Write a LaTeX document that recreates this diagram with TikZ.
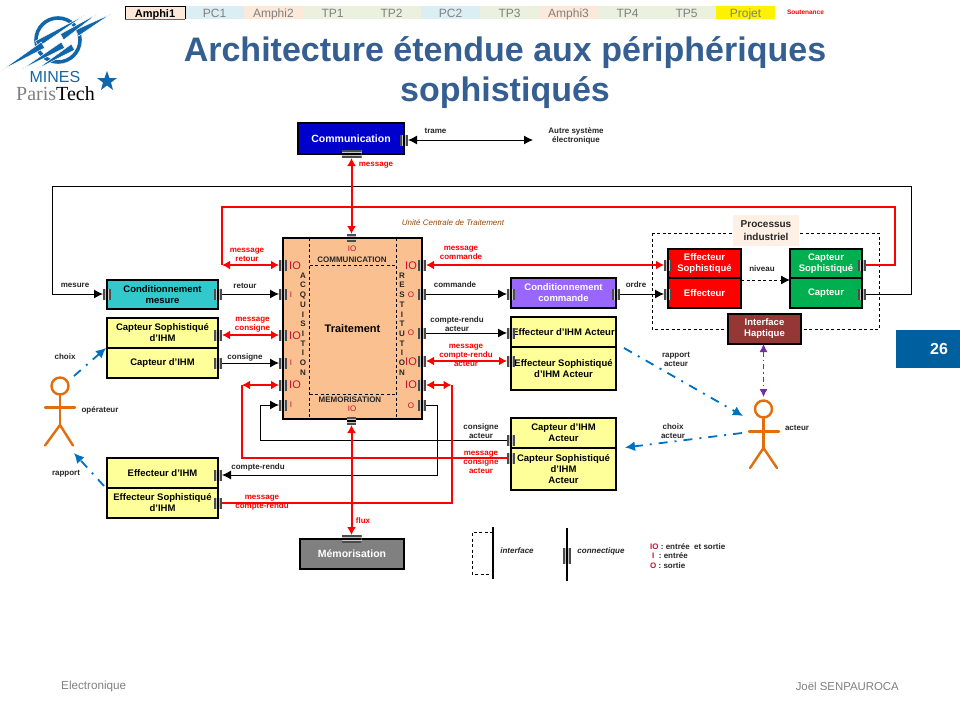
\documentclass[tikz,border=0pt]{standalone}
\usepackage{fontspec}
\setmainfont{Liberation Sans}
\newfontfamily\serifpt{Liberation Serif}
\usetikzlibrary{arrows.meta,calc}
\definecolor{tamphi}{HTML}{FDE9D9}
\definecolor{tpc}{HTML}{DBEEF4}
\definecolor{ttp}{HTML}{EBF1DE}
\definecolor{titleblue}{HTML}{365F91}
\definecolor{mblue}{HTML}{1166AA}
\definecolor{dblue}{HTML}{0070C0}
\definecolor{pageblue}{HTML}{005F9E}
\definecolor{orangeman}{HTML}{E46C0A}
\definecolor{purpleh}{HTML}{7030A0}
\definecolor{teal}{HTML}{31C9CB}
\definecolor{paley}{HTML}{FFFF99}
\definecolor{violetc}{HTML}{9966FF}
\definecolor{greenc}{HTML}{00B050}
\definecolor{brownh}{HTML}{953735}
\definecolor{peach}{HTML}{FAC090}
\definecolor{darkred}{HTML}{C8102E}
\definecolor{brownt}{HTML}{984807}
\tikzset{
  boxn/.style={draw=black,line width=1.5pt,inner sep=0pt,outer sep=0pt,align=center,text=black,
    font=\fontsize{9.5}{11}\selectfont\bfseries},
  tabn/.style={inner sep=0pt,outer sep=0pt,text=gray,text height=10pt,text depth=0pt,font=\fontsize{12}{12}\selectfont},
  lab/.style={inner sep=0pt,align=center,text=black!85,font=\fontsize{8}{9}\selectfont\bfseries},
  rlab/.style={lab,text=red},
  iol/.style={inner sep=0pt,text=darkred,font=\fontsize{11}{12}\selectfont},
  ios/.style={inner sep=0pt,text=darkred,font=\fontsize{8}{9}\selectfont},
  inner/.style={inner sep=0pt,align=center,text=black!85,font=\fontsize{8}{9.7}\selectfont\bfseries},
  wire/.style={draw=black,line width=1pt},
  rwire/.style={draw=red,line width=2pt},
  dashw/.style={draw=black,line width=.8pt,dash pattern=on 3pt off 2.5pt},
  bdash/.style={draw=dblue,line width=1.8pt,dash pattern=on 9pt off 7pt on 2pt off 7pt},
  pdash/.style={draw=purpleh,line width=1pt,dash pattern=on 5pt off 3pt on 1.5pt off 3pt},
  man/.style={draw=orangeman,line width=2.4pt,line cap=round},
  bk/.style={-{Latex[length=9pt,width=9pt]}},
  bkb/.style={{Latex[length=9pt,width=9pt]}-{Latex[length=9pt,width=9pt]}},
  rd/.style={{Latex[length=8pt,width=9pt]}-{Latex[length=8pt,width=9pt]}},
  bl/.style={-{Latex[length=10pt,width=10pt]}},
  vcon/.style={inner sep=0pt,outer sep=0pt,minimum width=8pt,minimum height=11pt,fill=gray!45,
    path picture={
      \draw[black!70,line width=1.1pt] ([xshift=1pt]path picture bounding box.north west) -- ([xshift=1pt]path picture bounding box.south west);
      \draw[black!70,line width=1.1pt] ([xshift=-1pt]path picture bounding box.north east) -- ([xshift=-1pt]path picture bounding box.south east);
      \draw[black,line width=1.3pt] (path picture bounding box.north) -- (path picture bounding box.south);
    }},
  hcon/.style={inner sep=0pt,outer sep=0pt,minimum height=8pt,minimum width=#1,fill=gray!45,
    path picture={
      \draw[black!70,line width=1.1pt] ([yshift=-1pt]path picture bounding box.north west) -- ([yshift=-1pt]path picture bounding box.north east);
      \draw[black!70,line width=1.1pt] ([yshift=1pt]path picture bounding box.south west) -- ([yshift=1pt]path picture bounding box.south east);
      \draw[black,line width=1.3pt] (path picture bounding box.west) -- (path picture bounding box.east);
    }},
}
\newcommand{\bx}[7]{%
  \pgfmathsetmacro{\bw}{#4-#2}\pgfmathsetmacro{\bh}{#5-#3}%
  \node[boxn,#6,minimum width=\bw pt,minimum height=\bh pt] (#1) at ({(#2+#4)/2},{(#3+#5)/2}) {#7};}
\newcommand{\tabb}[5]{%
  \pgfmathsetmacro{\bw}{#3-#2}%
  \node[tabn,fill=#4,minimum width=\bw pt,minimum height=13pt] (#1) at ({(#2+#3)/2},12.5) {#5};}
\newcommand{\sls}[4]{\fill[mblue,draw=white,line width=.5pt] (#1,#2) -- (#3+1.6,#4+3) -- (#3-1.6,#4-3) -- cycle;}
\begin{document}
\begin{tikzpicture}[x=1pt,y=-1pt]
\useasboundingbox (0,0) rectangle (960,720);
% schedule
\tabb{t1}{125}{185}{tamphi}{\textcolor{black}{\fontsize{11}{12}\selectfont\bfseries Amphi1}}
\draw[black,line width=1pt] (t1.south west) -- (t1.north west) -- (t1.north east) -- (t1.south east);
\draw[black!60,line width=1pt] (t1.south west) -- (t1.south east);
\tabb{t2}{185.5}{243.7}{tpc}{PC1}
\tabb{t3}{243.7}{303}{tamphi}{Amphi2}
\tabb{t4}{303}{362}{ttp}{TP1}
\tabb{t5}{362}{421}{ttp}{TP2}
\tabb{t6}{421}{480}{tpc}{PC2}
\tabb{t7}{480}{539}{ttp}{TP3}
\tabb{t8}{539}{598}{tamphi}{Amphi3}
\tabb{t9}{598}{657}{ttp}{TP4}
\tabb{t10}{657}{716}{ttp}{TP5}
\tabb{t11}{716}{775}{yellow}{Projet}
\node[inner sep=0pt,text=red,font=\fontsize{6.5}{7}\selectfont\bfseries] (t12) at (805.5,12.5) {Soutenance};
% logo
\draw[mblue,line width=3.6pt] (58,40) circle (22);
\sls{111}{14}{77}{33}
\sls{97}{14}{62}{37}
\sls{85}{15}{37}{44}
\sls{2}{70}{43}{45}
\sls{22}{69}{63}{45}
\sls{37}{69}{73}{47}
\node[inner sep=0pt,text=mblue,font=\fontsize{16}{16}\selectfont] (mines) at (55,77) {MINES};
\node[inner sep=0pt,font=\serifpt\fontsize{20}{20}\selectfont] (ptech) at (55.5,93.5) {\textcolor{gray}{Paris}\textcolor{black}{Tech}};
\fill[mblue] (107,71) -- (109.5,78) -- (117,78) -- (111,82.5) -- (113,90) -- (107,85.5) -- (101,90) -- (103,82.5) -- (97,78) -- (104.5,78) -- cycle;
% title
\node[inner sep=0pt,align=center,text=titleblue,font=\fontsize{34}{40}\selectfont\bfseries] (title) at (505,72.5) {Architecture étendue aux périphériques\\sophistiqués};
% boxes
\bx{comm}{298}{123}{404}{154}{fill=blue!80!black,text=white,font=\fontsize{10.5}{12}\selectfont\bfseries}{Communication}
\bx{memo}{300}{539}{404}{569}{fill=black!50,text=white,font=\fontsize{10.5}{12}\selectfont\bfseries}{Mémorisation}
\bx{cmes}{107}{280}{218}{309}{fill=teal}{Conditionnement\\mesure}
\bx{caps}{107}{318}{218}{348}{fill=paley}{Capteur Sophistiqué\\d'IHM}
\bx{capi}{107}{348}{218}{378}{fill=paley}{Capteur d'IHM}
\bx{effi}{107}{458}{218}{488}{fill=paley}{Effecteur d'IHM}
\bx{effs}{107}{488}{218}{518}{fill=paley}{Effecteur Sophistiqué\\d'IHM}
\bx{ccom}{511}{278}{616}{308}{fill=violetc,text=white}{Conditionnement\\commande}
\bx{eia}{511}{317}{616}{347}{fill=paley}{Effecteur d'IHM Acteur}
\bx{esa}{511}{347}{616}{390}{fill=paley}{Effecteur Sophistiqué\\d'IHM Acteur}
\bx{cia}{511}{418}{616}{448}{fill=paley}{Capteur d'IHM\\Acteur}
\bx{csa}{511}{448}{616}{490}{fill=paley}{Capteur Sophistiqué\\d'IHM\\Acteur}
\bx{trt}{283}{238}{422}{419}{fill=peach,font=\fontsize{11}{12}\selectfont\bfseries}{Traitement}
% process
\draw[dashw] (652,233) rectangle (879,329);
\node[fill=tamphi!70,inner sep=0pt,minimum width=66pt,minimum height=31pt,align=center,text=black!85,font=\fontsize{10}{12.5}\selectfont\bfseries] (proc) at (766,230.5) {Processus\\industriel};
\bx{efs}{668}{249}{741}{278}{fill=red,text=white}{Effecteur\\Sophistiqué}
\bx{eff}{668}{278}{741}{308}{fill=red,text=white}{Effecteur}
\bx{cps}{790}{249}{862}{278}{fill=greenc,text=white}{Capteur\\Sophistiqué}
\bx{cpt}{790}{278}{862}{308}{fill=greenc,text=white}{Capteur}
\bx{hapt}{728}{314}{801}{344}{fill=brownh,text=white}{Interface\\Haptique}
% dashes inside Traitement
\coordinate (dv1t) at (309.5,238); \coordinate (dv1b) at (309.5,419);
\coordinate (dv2t) at (396.5,238); \coordinate (dv2b) at (396.5,419);
\coordinate (dh1l) at (309.5,265); \coordinate (dh1r) at (396.5,265);
\coordinate (dh2l) at (309.5,394); \coordinate (dh2r) at (396.5,394);
\draw[dashw] (dv1t) -- (dv1b); \draw[dashw] (dv2t) -- (dv2b);
\draw[dashw] (dh1l) -- (dh1r); \draw[dashw] (dh2l) -- (dh2r);
\node[inner] (tcom) at (352,259.5) {COMMUNICATION};
\node[inner] (tmem) at (350,400) {MEMORISATION};
\node[inner] (tacq) at (303,324) {A\\C\\Q\\U\\I\\S\\I\\T\\I\\O\\N};
\node[inner] (tres) at (402,324) {R\\E\\S\\T\\I\\T\\U\\T\\I\\O\\N};
\node[ios] (io1) at (352,249) {IO};
\node[ios] (io2) at (352,409) {IO};
\node[iol] at (295,265.5) {IO};
\node[ios] at (291,295) {I};
\node[iol] at (295,335.5) {IO};
\node[ios] at (291,363) {I};
\node[iol] at (295,385) {IO};
\node[ios] at (291,405) {I};
\node[iol] at (411,265.5) {IO};
\node[ios] at (411,295) {O};
\node[ios] at (411,333) {O};
\node[iol] at (411,362) {IO};
\node[iol] at (411,385) {IO};
\node[ios] at (411,406) {O};
% connectors
\node[vcon] (cR) at (404,140) {};
\node[hcon=20pt] (cB) at (351.5,154) {};
\node[hcon=20pt] (mT) at (351.5,539) {};
\node[hcon=9pt] (tT) at (351.5,238) {};
\node[hcon=9pt] (tB) at (351.5,421) {};
\foreach \n/\y in {L1/265,L2/294,L3/335,L4/363,L5/385,L6/405} \node[vcon] (\n) at (283,\y) {};
\foreach \n/\y in {R1/265,R2/294,R3/333,R4/361,R5/385,R6/405} \node[vcon] (\n) at (422,\y) {};
\node[vcon] (cmesL) at (107,294) {};
\node[vcon] (cmesR) at (218,294) {};
\node[vcon] (capsR) at (218,335) {};
\node[vcon] (capiR) at (218,363) {};
\node[vcon] (effiR) at (218,475) {};
\node[vcon] (effsR) at (218,503) {};
\node[vcon] (ccomL) at (511,294) {};
\node[vcon] (ccomR) at (616,294) {};
\node[vcon] (eiaL) at (511,333) {};
\node[vcon] (esaL) at (511,361) {};
\node[vcon] (ciaL) at (511,440) {};
\node[vcon] (csaL) at (511,458) {};
\node[vcon] (efsL) at (668,265) {};
\node[vcon] (effL) at (668,294) {};
\node[vcon] (cpsR) at (862,265) {};
\node[vcon] (cptR) at (862,294) {};
% free-end coordinates
\coordinate (trameEnd) at (533,140);
\coordinate (bl1) at (911,294); \coordinate (bl2) at (911,186); \coordinate (bl3) at (52,186); \coordinate (bl4) at (52,294);
\coordinate (rl1) at (895,265); \coordinate (rl2) at (895,207); \coordinate (rl3) at (222,207); \coordinate (rl4) at (222,265);
% wires
\draw[wire] (cptR.east) -- (bl1) -- (bl2) -- (bl3) -- (bl4);
\draw[wire,bk] (bl4) -- (cmesL.west);
\draw[wire,bk] (cmesR.east) -- (L2.west);
\draw[wire,bk] (capiR.east) -- (L4.west);
\draw[wire,bk] (R2.east) -- (ccomL.west);
\draw[wire,bk] (R3.east) -- (eiaL.west);
\draw[wire,bk] (ccomR.east) -- (effL.west);
\draw[wire,bkb] (cR.east) -- (trameEnd);
\coordinate (w1) at (260.5,405); \coordinate (w2) at (260.5,440);
\draw[wire] (ciaL.west) -- (w2) -- (w1);
\draw[wire,bk] (w1) -- (L6.west);
\coordinate (w3) at (437.5,405); \coordinate (w4) at (437.5,475);
\draw[wire] (R6.east) -- (w3) -- (w4);
\draw[wire,bk] (w4) -- (effiR.east);
\coordinate (n1) at (741,280); \coordinate (n2) at (790,280);
\draw[dashw,bk] (n1) -- (n2);
\draw[rwire,line join=miter] (cpsR.east) -- (rl1) -- (rl2) -- (rl3) -- (rl4);
\draw[rwire,rd] (rl4) -- (L1.west);
\draw[rwire,rd] (R1.east) -- (efsL.west);
\draw[rwire,rd] (capsR.east) -- (L3.west);
\draw[rwire,rd] (R4.east) -- (esaL.west);
\coordinate (r1) at (242,385); \coordinate (r2) at (242,458);
\draw[rwire,rd] (r1) -- (L5.west);
\draw[rwire] (r1) -- (r2) -- (csaL.west);
\coordinate (r3) at (451.5,385); \coordinate (r4) at (451.5,503);
\draw[rwire,rd] (R5.east) -- (r3);
\draw[rwire] (r3) -- (r4) -- (effsR.east);
\draw[rwire,rd] (cB.south) -- (tT.north);
\draw[rwire,rd] (tB.south) -- (mT.north);
% actors
\node[draw=orangeman,line width=2.4pt,circle,minimum size=17pt,inner sep=0pt] (opH) at (60,386) {};
\coordinate (opB) at (60,425); \coordinate (opA1) at (45,407.5); \coordinate (opA2) at (75,407.5);
\coordinate (opL1) at (45,445.5); \coordinate (opL2) at (73,445.5);
\draw[man] (opH.south) -- (opB); \draw[man] (opA1) -- (opA2); \draw[man] (opL1) -- (opB) -- (opL2);
\node[draw=orangeman,line width=2.4pt,circle,minimum size=17pt,inner sep=0pt] (acH) at (763.5,409) {};
\coordinate (acB) at (763.5,448); \coordinate (acA1) at (749,431.5); \coordinate (acA2) at (779,431.5);
\coordinate (acL1) at (750,468); \coordinate (acL2) at (777,468);
\draw[man] (acH.south) -- (acB); \draw[man] (acA1) -- (acA2); \draw[man] (acL1) -- (acB) -- (acL2);
% dash-dot links
\coordinate (b1) at (74,376); \coordinate (b2) at (106,348);
\coordinate (b3) at (104,486); \coordinate (b4) at (74,453);
\coordinate (b5) at (624,348); \coordinate (b6) at (743,416);
\coordinate (b7) at (742,433); \coordinate (b8) at (625,447.5);
\draw[bdash,bl] (b1) -- (b2);
\draw[bdash,bl] (b3) -- (b4);
\draw[bdash,bl] (b5) -- (b6);
\draw[bdash,bl] (b7) -- (b8);
\coordinate (p1) at (763.5,397);
\draw[pdash,{Latex[length=8pt,width=8pt]}-{Latex[length=8pt,width=8pt]}] (hapt.south -| p1) -- (p1);
% labels
\node[lab] (l01) at (435.5,131) {trame};
\node[lab] (l02) at (576,136) {Autre système\\électronique};
\node[rlab] (l03) at (376,165) {message};
\node[inner sep=0pt,text=brownt,font=\fontsize{8}{9}\selectfont\itshape] (l04) at (453,223) {Unité Centrale de Traitement};
\node[lab] (l05) at (75,285) {mesure};
\node[lab] (l06) at (245,286) {retour};
\node[rlab] (l07) at (247,255) {message\\retour};
\node[rlab] (l08) at (252.5,325) {message\\consigne};
\node[lab] (l09) at (245,357) {consigne};
\node[lab] (l10) at (65,357) {choix};
\node[lab] (l11) at (100,410) {opérateur};
\node[lab] (l12) at (66,474) {rapport};
\node[lab] (l13) at (258,467) {compte-rendu};
\node[rlab] (l14) at (262,503) {message\\compte-rendu};
\node[rlab] (l15) at (461,253) {message\\commande};
\node[lab] (l16) at (455,285) {commande};
\node[lab] (l17) at (457,324) {compte-rendu\\acteur};
\node[rlab] (l18) at (466,355.5) {message\\compte-rendu\\acteur};
\node[lab] (l19) at (481,431) {consigne\\acteur};
\node[rlab] (l20) at (481,462.5) {message\\consigne\\acteur};
\node[lab] (l21) at (636,285) {ordre};
\node[lab] (l22) at (762,269) {niveau};
\node[lab] (l23) at (676,359) {rapport\\acteur};
\node[lab] (l24) at (673,431.5) {choix\\acteur};
\node[lab] (l25) at (797,428) {acteur};
\node[rlab] (l26) at (363,521) {flux};
% legend
\coordinate (lg1) at (493,532); \coordinate (lg2) at (472,532); \coordinate (lg3) at (472,574); \coordinate (lg4) at (493,574);
\draw[dashw] (lg1) -- (lg2) -- (lg3) -- (lg4);
\coordinate (lg5) at (493,527); \coordinate (lg6) at (493,579);
\draw[black,line width=1.5pt] (lg5) -- (lg6);
\coordinate (lg7) at (567,528); \coordinate (lg8) at (567,581);
\draw[black,line width=1.5pt] (lg7) -- (lg8);
\node[vcon,minimum height=16pt] (lgc) at (567,556) {};
\node[inner sep=0pt,text=black!85,font=\fontsize{8}{9}\selectfont\bfseries\itshape] (l27) at (517,551) {interface};
\node[inner sep=0pt,text=black!85,font=\fontsize{8}{9}\selectfont\bfseries\itshape] (l28) at (601,551) {connectique};
\node[lab,anchor=west] (l29) at (650,547) {\textcolor{darkred}{IO} : entrée\ \ et sortie};
\node[lab,anchor=west] (l30) at (652,556) {\textcolor{darkred}{I}\ \ : entrée};
\node[lab,anchor=west] (l31) at (650,566) {\textcolor{darkred}{O} : sortie};
% page number
\node[fill=pageblue,inner sep=0pt,minimum width=64pt,minimum height=38pt] (pg) at (928,349) {};
\node[inner sep=0pt,text=white,font=\fontsize{16}{17}\selectfont\bfseries] (pgn) at (939,349) {26};
% footer
\node[inner sep=0pt,anchor=west,text=gray,font=\fontsize{11.7}{13}\selectfont] (f1) at (61,686) {Electronique};
\node[inner sep=0pt,anchor=east,text=gray,font=\fontsize{11.4}{13}\selectfont] (f2) at (899,686) {Joël SENPAUROCA};
\end{tikzpicture}
\end{document}
